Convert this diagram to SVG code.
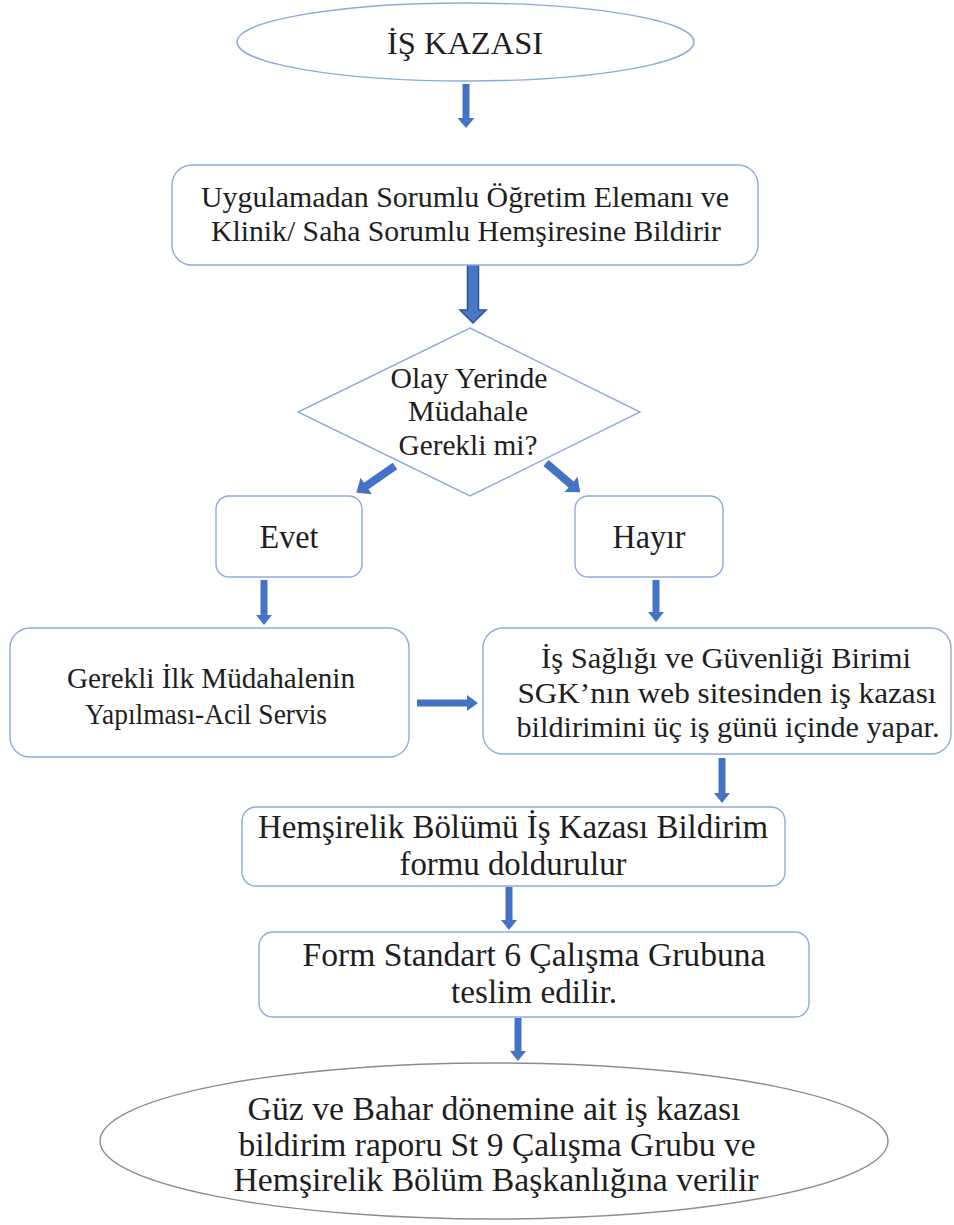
<svg xmlns="http://www.w3.org/2000/svg" width="954" height="1225" viewBox="0 0 954 1225">
<style>
.shape{fill:#ffffff;stroke:#8eaadb;stroke-width:1.4}
.gray{fill:#ffffff;stroke:#8c8c8c;stroke-width:1.4}
.t{font-family:'Liberation Serif','Times New Roman',serif;fill:#1e1e1e;text-anchor:middle}
.arr{fill:#4472c4}
.arr2{fill:#4a78c8;stroke:#2f528f;stroke-width:1.5}
</style>
<rect width="954" height="1225" fill="#ffffff"/>
<g id="connectors">
<path class="arr" d="M462.5,84 H469.5 V118 H474.5 L466,128 L457.5,118 H462.5 Z"/>
<path class="arr2" d="M467.5,265 H478.5 V310 H486 L473,323 L460,310 H467.5 Z"/>
<path class="arr" transform="translate(395,466) rotate(55.3)" d="M-4,0 H4 V35 H10 L0,47 L-10,35 H-4 Z"/>
<path class="arr" transform="translate(546,463) rotate(-49.5)" d="M-4,0 H4 V33 H10 L0,45 L-10,33 H-4 Z"/>
<path class="arr" d="M260.5,580 H267.5 V615 H272 L264,625 L256,615 H260.5 Z"/>
<path class="arr" d="M652.5,580 H659.5 V612 H664 L656,622 L648,612 H652.5 Z"/>
<path class="arr" d="M417,699.5 V706.5 H467 V711 L478,703 L467,695 V699.5 Z"/>
<path class="arr" d="M718.5,758 H725.5 V793 H730 L722,803 L714,793 H718.5 Z"/>
<path class="arr" d="M505.5,887 H512.5 V920 H517 L509,930 L501,920 H505.5 Z"/>
<path class="arr" d="M514.5,1018 H521.5 V1051 H526 L518,1061 L510,1051 H514.5 Z"/>
</g>
<g id="n-start">
<ellipse class="shape" cx="465.5" cy="42" rx="228.5" ry="39"/>
<text class="t" x="465" y="54" font-size="32" textLength="156" lengthAdjust="spacingAndGlyphs">İŞ KAZASI</text>
</g>
<g id="n-notify">
<rect class="shape" x="172" y="165" width="586" height="100" rx="20"/>
<text class="t" x="465" y="207" font-size="30" textLength="528" lengthAdjust="spacingAndGlyphs">Uygulamadan Sorumlu Öğretim Elemanı ve</text>
<text class="t" x="466" y="241" font-size="30" textLength="510" lengthAdjust="spacingAndGlyphs">Klinik/ Saha Sorumlu Hemşiresine Bildirir</text>
</g>
<g id="n-decision">
<polygon class="shape" points="470,328 640,412 470,496 298,412"/>
<text class="t" x="469" y="388" font-size="29" textLength="157" lengthAdjust="spacingAndGlyphs">Olay Yerinde</text>
<text class="t" x="468" y="421" font-size="29" textLength="120" lengthAdjust="spacingAndGlyphs">Müdahale</text>
<text class="t" x="468" y="455" font-size="29" textLength="139" lengthAdjust="spacingAndGlyphs">Gerekli mi?</text>
</g>
<g id="n-evet">
<rect class="shape" x="216" y="496" width="146" height="81" rx="13"/>
<text class="t" x="289" y="548" font-size="33" textLength="59" lengthAdjust="spacingAndGlyphs">Evet</text>
</g>
<g id="n-hayir">
<rect class="shape" x="575" y="496" width="148" height="81" rx="13"/>
<text class="t" x="649" y="548" font-size="33" textLength="73" lengthAdjust="spacingAndGlyphs">Hayır</text>
</g>
<g id="n-firstaid">
<rect class="shape" x="10" y="628" width="399" height="129" rx="20"/>
<text class="t" x="211" y="688" font-size="29" textLength="288" lengthAdjust="spacingAndGlyphs">Gerekli İlk Müdahalenin</text>
<text class="t" x="206" y="724" font-size="29" textLength="242" lengthAdjust="spacingAndGlyphs">Yapılması-Acil Servis</text>
</g>
<g id="n-isg">
<rect class="shape" x="483" y="628" width="468" height="126" rx="20"/>
<text class="t" x="726" y="668" font-size="29" textLength="370" lengthAdjust="spacingAndGlyphs">İş Sağlığı ve Güvenliği Birimi</text>
<text class="t" x="727" y="703" font-size="29" textLength="419" lengthAdjust="spacingAndGlyphs">SGK’nın web sitesinden  iş kazası</text>
<text class="t" x="728" y="737" font-size="29" textLength="423" lengthAdjust="spacingAndGlyphs">bildirimini üç iş günü içinde yapar.</text>
</g>
<g id="n-form">
<rect class="shape" x="242" y="807" width="543" height="79" rx="14"/>
<text class="t" x="513" y="838" font-size="33" textLength="510" lengthAdjust="spacingAndGlyphs">Hemşirelik Bölümü İş Kazası Bildirim</text>
<text class="t" x="513" y="875" font-size="33" textLength="227" lengthAdjust="spacingAndGlyphs">formu doldurulur</text>
</g>
<g id="n-deliver">
<rect class="shape" x="259" y="932" width="550" height="85" rx="14"/>
<text class="t" x="534" y="966" font-size="33" textLength="463" lengthAdjust="spacingAndGlyphs">Form Standart 6 Çalışma Grubuna</text>
<text class="t" x="534" y="1003" font-size="33" textLength="166" lengthAdjust="spacingAndGlyphs">teslim edilir.</text>
</g>
<g id="n-end">
<ellipse class="gray" cx="494" cy="1141" rx="394" ry="78"/>
<text class="t" x="494" y="1120" font-size="33" textLength="493" lengthAdjust="spacingAndGlyphs">Güz ve Bahar dönemine ait iş kazası</text>
<text class="t" x="497" y="1156" font-size="33" textLength="517" lengthAdjust="spacingAndGlyphs">bildirim raporu St 9 Çalışma Grubu ve</text>
<text class="t" x="496" y="1191" font-size="33" textLength="525" lengthAdjust="spacingAndGlyphs">Hemşirelik Bölüm Başkanlığına verilir</text>
</g>
</svg>
